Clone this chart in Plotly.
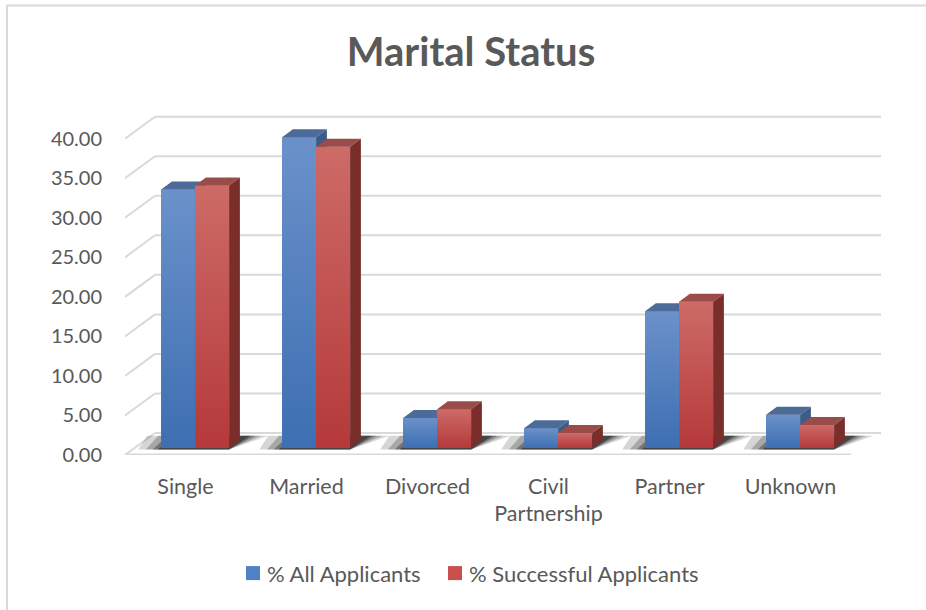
import plotly.graph_objects as go

# ---------------- data ----------------
categories = ["Single", "Married", "Divorced", "Civil<br>Partnership", "Partner", "Unknown"]
all_applicants = [32.7, 39.3, 3.8, 2.5, 17.3, 4.2]
successful_applicants = [33.2, 38.1, 4.9, 1.9, 18.5, 2.9]
series_names = ["% All Applicants", "% Successful Applicants"]
y_ticks = [0, 5, 10, 15, 20, 25, 30, 35, 40]
y_tick_labels = ["%.2f" % v for v in y_ticks]

# ---------------- geometry / style ----------------
W, H = 926, 610
PX_X = 121.0          # px per category
PX_Y = 7.9            # px per value unit
L_PX, FRONT0_PX = 125, 455
DXF = 30 / PX_X       # full floor depth shift in x units
DYF = 22 / PX_Y       # full floor depth shift in value units
D0, D1 = 0.32, 0.68   # bar depth (front/back) fraction
BW = 34 / PX_X        # bar width in x units
XMIN, XMAX = -0.5, len(categories) - 0.5 + DXF
YMAX = 43.0
PW = (XMAX - XMIN) * PX_X
PH = YMAX * PX_Y
M_T = FRONT0_PX - PH
M_B = H - FRONT0_PX
M_R = W - L_PX - PW

FONT = "Lato"
TXT = "#595959"
GRID = "#d9d9d9"


def px_to_paper_x(px):
    return (px - L_PX) / PW


def px_to_paper_y(py):
    return (FRONT0_PX - py) / PH


colors = [
    dict(legend="#4f81c4", top_grad="#6b91ca", bot_grad="#3d6fb2", topface="#4c6b98", side="#3b5b88"),
    dict(legend="#c9504d", top_grad="#cd6b67", bot_grad="#b5393a", topface="#9a4c4a", side="#7a2e2c"),
]

base = D0 * DYF
ddx = (D1 - D0) * DXF
ddy = (D1 - D0) * DYF

fig = go.Figure()
shapes = []
annotations = []

# back-wall gridlines + side-wall diagonals
for v in y_ticks:
    shapes.append(dict(type="line", xref="x", yref="y", layer="below",
                       x0=XMIN + DXF, x1=XMAX, y0=v + DYF, y1=v + DYF,
                       line=dict(color=GRID, width=2)))
    shapes.append(dict(type="line", xref="x", yref="y", layer="below",
                       x0=XMIN, x1=XMIN + DXF, y0=v, y1=v + DYF,
                       line=dict(color=GRID, width=2)))
# floor front edge
shapes.append(dict(type="line", xref="x", yref="y", layer="below",
                   x0=XMIN, x1=XMAX - DXF, y0=0, y1=0,
                   line=dict(color=GRID, width=3)))

# soft shadows under each cluster (layered, darker near bars)
sh_dy = 1.75                     # shadow depth in value units
sh_dx = sh_dy / DYF * DXF        # matching x slant
for i in range(len(categories)):
    xl = i + D0 * DXF - BW
    xr = i + D0 * DXF + BW
    for exl, exr, op in [(0.27, 0.17, 0.16), (0.18, 0.11, 0.22), (0.10, 0.06, 0.30), (0.04, 0.02, 0.40)]:
        y0 = base - 0.2
        y1 = y0 + sh_dy
        path = "M {a},{y0} L {b},{y0} L {c},{y1} L {d},{y1} Z".format(
            a=xl - exl * 0.7, b=xr, c=xr + sh_dx + exr, d=xl - exl + sh_dx, y0=y0, y1=y1)
        shapes.append(dict(type="path", xref="x", yref="y", layer="below", path=path,
                           fillcolor="rgba(0,0,0,%.2f)" % op, line=dict(width=0)))

# chart border
shapes.append(dict(type="rect", xref="paper", yref="paper", layer="below",
                   x0=px_to_paper_x(7), x1=px_to_paper_x(W + 10),
                   y0=px_to_paper_y(H + 10), y1=px_to_paper_y(6),
                   line=dict(color=GRID, width=2), fillcolor="rgba(0,0,0,0)"))

series = [all_applicants, successful_applicants]
for s, vals in enumerate(series):
    c = colors[s]
    xa = "x" if s == 0 else "x2"
    ya = "y" if s == 0 else "y2"
    xc = [i + D0 * DXF + (s - 0.5) * BW for i in range(len(vals))]
    fig.add_trace(go.Bar(x=xc, y=vals, base=[base] * len(vals), width=BW,
                         name=series_names[s], marker=dict(color=c["legend"], line=dict(width=0)),
                         xaxis=xa, yaxis=ya, showlegend=False))
    for i, v in enumerate(vals):
        xl = xc[i] - BW / 2
        xr = xc[i] + BW / 2
        top = base + v
        # gradient front face overlay
        fig.add_trace(go.Scatter(x=[xl, xr, xr, xl, xl], y=[base, base, top, top, base],
                                 mode="lines", fill="toself", line=dict(width=0),
                                 fillgradient=dict(type="vertical",
                                                   colorscale=[[0, c["bot_grad"]], [1, c["top_grad"]]],
                                                   start=base, stop=top),
                                 xaxis=xa, yaxis=ya, showlegend=False, hoverinfo="skip"))
        # top face
        fig.add_trace(go.Scatter(x=[xl, xr, xr + ddx, xl + ddx, xl],
                                 y=[top, top, top + ddy, top + ddy, top],
                                 mode="lines", fill="toself", fillcolor=c["topface"],
                                 line=dict(width=0), xaxis=xa, yaxis=ya,
                                 showlegend=False, hoverinfo="skip"))
        # side face
        fig.add_trace(go.Scatter(x=[xr, xr, xr + ddx, xr + ddx, xr],
                                 y=[base, top, top + ddy, base + ddy, base],
                                 mode="lines", fill="toself", fillcolor=c["side"],
                                 line=dict(width=0), xaxis=xa, yaxis=ya,
                                 showlegend=False, hoverinfo="skip"))

# legend (swatch + text)
legend_pos = [(246, 265), (448, 467)]
LEG_Y = 573
for s, name in enumerate(series_names):
    sx, tx = legend_pos[s]
    shapes.append(dict(type="rect", xref="paper", yref="paper",
                       x0=px_to_paper_x(sx), x1=px_to_paper_x(sx + 14),
                       y0=px_to_paper_y(LEG_Y + 7), y1=px_to_paper_y(LEG_Y - 7),
                       fillcolor=colors[s]["legend"], line=dict(width=0)))
    annotations.append(dict(text=name, xref="paper", yref="paper",
                            x=px_to_paper_x(tx), y=px_to_paper_y(LEG_Y),
                            xanchor="left", yanchor="middle", showarrow=False,
                            font=dict(family=FONT, size=22, color=TXT)))

fig.update_layout(
    width=W, height=H,
    margin=dict(l=L_PX, r=M_R, t=M_T, b=M_B),
    paper_bgcolor="white", plot_bgcolor="rgba(0,0,0,0)",
    barmode="overlay",
    shapes=shapes,
    annotations=annotations,
    title=dict(text="<b>Marital Status</b>", x=471 / W, xanchor="center",
               y=1 - 52 / H, yanchor="middle",
               font=dict(family=FONT, size=40, color=TXT)),
    xaxis=dict(range=[XMIN, XMAX], tickvals=list(range(len(categories))), ticktext=categories,
               showgrid=False, zeroline=False, showline=False, ticks="",
               tickfont=dict(family=FONT, size=21.5, color=TXT), ticklabelstandoff=16,
               fixedrange=True),
    yaxis=dict(range=[0, YMAX], tickvals=y_ticks, ticktext=y_tick_labels,
               showgrid=False, zeroline=False, showline=False, ticks="",
               tickfont=dict(family=FONT, size=20, color=TXT), ticklabelstandoff=22,
               fixedrange=True),
    xaxis2=dict(range=[XMIN, XMAX], overlaying="x", visible=False, fixedrange=True),
    yaxis2=dict(range=[0, YMAX], overlaying="y", visible=False, fixedrange=True),
    showlegend=False,
)

fig.write_html("out.html", config={"displayModeBar": False},
               post_script="document.body.style.margin='0';")
